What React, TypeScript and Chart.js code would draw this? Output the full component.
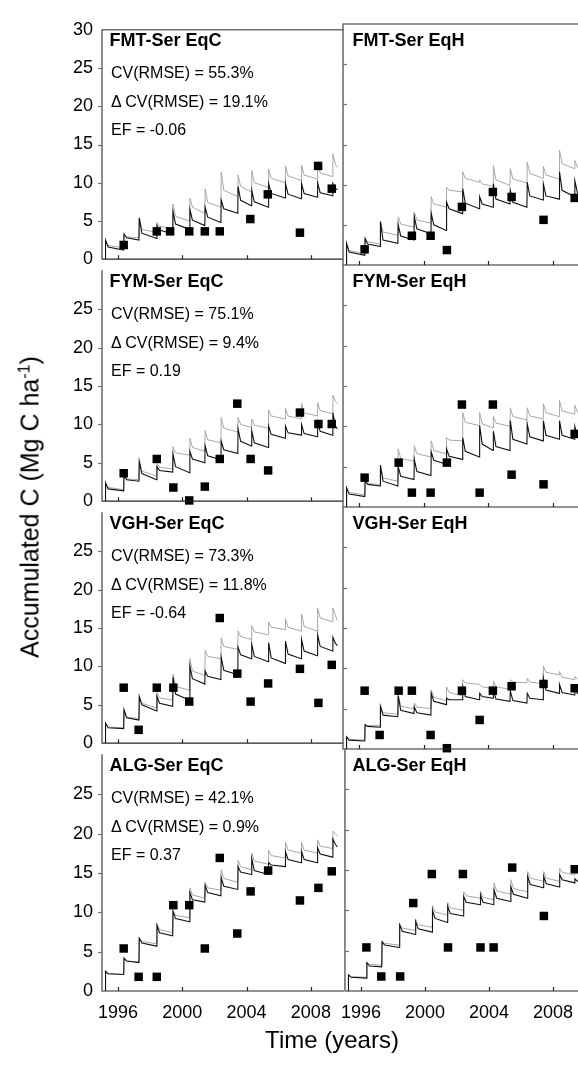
import { useEffect, useRef } from 'react';
import { Chart, registerables } from 'chart.js';

Chart.register(...registerables);

const FONT = '"Liberation Sans", Arial, Helvetica, sans-serif';

// Yearly amendment dates (decimal years) and end of the simulated period
const applicationYears = [1995.2, 1996.35, 1997.3, 1998.4, 1999.4, 2000.45, 2001.4, 2002.4, 2003.45, 2004.3, 2005.35, 2006.4, 2007.4, 2008.4, 2009.35];
const simulationEnd = 2009.65;

const yearTicks = [1996, 2000, 2004, 2008];
const carbonTicks = [0, 5, 10, 15, 20, 25, 30];

// Simulated accumulated C per application cycle: [peak, shortly after peak, just before next application]
// modelA = black curve, modelB = grey curve
const fmtEqcModelA = [[2.5, 1.6, 1.2], [3.3, 2.8, 2.5], [5.4, 3.4, 2.7], [4.4, 3.8, 3.3], [6.2, 4.6, 3.9], [6.5, 5.1, 4.4], [6.8, 5.5, 4.8], [7.7, 6.6, 6.0], [9.5, 7.7, 7.0], [9.0, 7.5, 6.8], [9.9, 8.6, 8.0], [9.9, 8.5, 7.9], [9.9, 8.6, 8.1], [10.0, 8.7, 8.3], [9.9, 9.2, 9.1]];
const fmtEqcModelB = [[2.4, 1.8, 1.5], [3.2, 2.9, 2.8], [5.4, 3.9, 3.5], [4.8, 4.3, 4.0], [7.2, 5.6, 5.0], [8.0, 6.8, 6.0], [9.2, 7.4, 6.8], [11.4, 9.0, 8.2], [11.0, 9.5, 8.8], [11.6, 10.0, 9.4], [11.8, 10.6, 10.0], [12.2, 10.9, 10.3], [12.3, 11.0, 10.5], [12.6, 11.3, 10.8], [13.8, 12.4, 12.0]];
const fmtEqhModelA = [[2.7, 1.6, 1.2], [3.3, 2.6, 2.3], [5.4, 3.1, 2.7], [5.0, 3.6, 3.1], [6.0, 4.5, 3.9], [6.4, 5.0, 4.3], [7.8, 7.0, 6.4], [9.5, 7.7, 7.0], [8.5, 7.6, 7.2], [10.1, 8.2, 7.6], [9.3, 7.8, 7.2], [10.3, 8.6, 8.1], [10.1, 8.6, 8.2], [11.6, 9.3, 8.5], [10.5, 9.0, 8.6]];
const fmtEqhModelB = [[2.6, 1.8, 1.4], [3.3, 2.9, 2.6], [5.4, 4.1, 3.7], [6.0, 5.1, 4.7], [6.6, 5.6, 5.2], [8.5, 7.6, 7.2], [9.7, 9.3, 9.1], [11.6, 10.8, 10.3], [10.6, 10.1, 9.8], [12.4, 10.6, 9.9], [12.0, 10.7, 10.2], [12.8, 11.4, 10.8], [12.3, 11.2, 10.7], [14.3, 12.6, 12.0], [13.0, 12.2, 11.9]];
const fymEqcModelA = [[2.4, 1.6, 1.35], [3.4, 2.8, 2.6], [5.2, 3.6, 2.8], [4.5, 4.0, 3.8], [6.1, 4.5, 3.7], [6.5, 5.5, 5.0], [7.2, 5.9, 5.4], [7.8, 6.7, 6.2], [9.4, 7.8, 7.2], [9.2, 7.6, 7.0], [9.8, 8.7, 8.2], [9.8, 8.9, 8.6], [10.0, 8.8, 8.4], [10.3, 9.1, 8.6], [11.5, 9.8, 9.4]];
const fymEqcModelB = [[2.3, 1.8, 1.5], [3.3, 2.9, 2.8], [5.2, 3.9, 3.3], [4.9, 4.4, 4.2], [7.1, 6.3, 6.0], [8.2, 7.0, 6.5], [9.2, 8.0, 7.6], [10.9, 9.5, 9.0], [10.9, 10.0, 9.6], [10.7, 9.9, 9.5], [11.9, 11.1, 10.7], [12.1, 11.1, 10.7], [12.7, 11.5, 11.1], [12.8, 11.8, 11.4], [13.8, 13.0, 12.7]];
const fymEqhModelA = [[2.4, 1.6, 1.3], [3.3, 2.8, 2.6], [5.2, 3.2, 2.6], [5.0, 3.8, 3.4], [5.9, 4.4, 3.9], [6.8, 5.8, 5.3], [7.2, 6.3, 5.9], [8.6, 6.9, 6.2], [10.1, 7.8, 7.0], [9.4, 7.5, 7.0], [10.7, 8.4, 7.8], [10.3, 8.7, 8.2], [10.7, 8.9, 8.4], [10.7, 8.9, 8.4], [10.0, 8.8, 8.6]];
const fymEqhModelB = [[2.3, 1.8, 1.5], [3.3, 2.9, 2.8], [5.2, 3.6, 3.2], [7.2, 6.0, 5.7], [7.6, 6.6, 6.2], [8.2, 7.0, 6.6], [8.6, 8.3, 8.2], [11.7, 10.5, 10.1], [11.7, 10.3, 9.8], [11.3, 10.4, 10.0], [12.3, 11.2, 10.8], [12.3, 11.3, 10.9], [12.8, 11.7, 11.2], [13.2, 11.9, 11.5], [12.6, 11.8, 11.5]];
const vghEqcModelA = [[2.6, 2.0, 1.9], [4.4, 3.3, 3.0], [6.1, 5.0, 4.2], [6.1, 5.2, 4.8], [8.6, 6.4, 5.6], [10.0, 8.4, 7.7], [9.4, 8.7, 8.3], [11.2, 9.5, 8.9], [12.5, 11.5, 11.0], [12.9, 11.3, 10.6], [13.1, 11.1, 10.4], [13.3, 11.6, 11.0], [13.5, 12.0, 11.4], [14.1, 12.6, 12.0], [13.8, 13.0, 12.7]];
const vghEqcModelB = [[2.5, 2.1, 2.0], [4.3, 3.4, 3.2], [6.0, 5.2, 4.6], [6.6, 5.9, 5.6], [9.0, 7.4, 6.9], [11.0, 9.4, 8.8], [12.1, 11.3, 11.0], [13.7, 12.6, 12.2], [14.6, 13.9, 13.5], [15.3, 14.5, 14.1], [15.8, 15.1, 14.8], [16.2, 15.1, 14.6], [16.8, 15.2, 14.6], [17.6, 16.3, 15.8], [17.6, 16.6, 16.0]];
const vghEqhModelA = [[1.5, 1.1, 1.0], [3.0, 2.8, 2.7], [5.3, 4.2, 4.0], [6.6, 4.8, 4.4], [5.2, 4.5, 4.2], [6.9, 5.9, 5.5], [6.3, 6.1, 6.1], [7.7, 6.5, 6.1], [6.9, 6.5, 6.3], [7.3, 6.2, 5.9], [7.2, 6.0, 5.7], [6.9, 6.3, 6.1], [8.8, 7.3, 6.9], [8.0, 7.0, 6.7], [7.4, 6.9, 6.8]];
const vghEqhModelB = [[1.5, 1.2, 1.1], [3.0, 2.9, 2.9], [5.4, 4.5, 4.3], [6.8, 5.3, 5.0], [5.7, 5.2, 5.0], [7.3, 6.4, 6.0], [7.7, 7.0, 6.6], [8.6, 8.2, 8.0], [8.0, 7.7, 7.5], [8.4, 7.7, 7.4], [8.6, 8.3, 8.2], [8.8, 8.3, 8.1], [10.3, 9.5, 9.2], [9.6, 8.9, 8.6], [9.0, 8.7, 8.5]];
const algEqcModelA = [[2.5, 2.2, 2.1], [4.2, 3.8, 3.6], [6.7, 6.1, 5.7], [8.3, 7.4, 7.0], [10.1, 9.2, 8.8], [12.5, 11.6, 11.3], [13.4, 12.5, 12.1], [14.4, 13.3, 12.9], [15.8, 15.1, 14.8], [16.8, 15.3, 14.8], [16.3, 16.0, 15.8], [17.7, 16.7, 16.3], [17.7, 16.7, 16.3], [18.2, 17.4, 17.0], [19.3, 18.6, 18.3]];
const algEqcModelB = [[2.4, 2.2, 2.1], [4.1, 3.8, 3.7], [6.8, 6.3, 6.0], [8.6, 7.8, 7.4], [10.3, 9.6, 9.3], [13.1, 12.2, 11.8], [13.8, 13.1, 12.8], [15.4, 14.3, 13.8], [16.6, 15.8, 15.4], [17.5, 16.5, 16.1], [17.9, 17.2, 16.9], [18.9, 17.9, 17.5], [18.9, 17.9, 17.5], [19.2, 18.4, 18.1], [20.3, 19.9, 19.7]];
const algEqhModelA = [[2.0, 1.7, 1.6], [3.5, 3.1, 3.0], [6.1, 5.7, 5.4], [8.2, 7.4, 7.0], [8.6, 7.7, 7.3], [10.0, 9.0, 8.5], [10.5, 9.6, 9.3], [11.7, 11.0, 10.7], [11.9, 11.0, 10.7], [12.5, 11.5, 11.1], [12.9, 12.0, 11.5], [14.2, 13.2, 12.8], [14.2, 13.3, 12.9], [14.4, 13.8, 13.4], [13.9, 13.6, 13.5]];
const algEqhModelB = [[2.0, 1.8, 1.7], [3.6, 3.3, 3.2], [6.2, 5.9, 5.7], [8.3, 7.8, 7.5], [8.9, 8.2, 7.9], [10.6, 9.8, 9.4], [11.0, 10.3, 10.0], [12.3, 11.8, 11.5], [12.4, 11.6, 11.3], [13.4, 12.4, 12.0], [13.8, 12.7, 12.3], [14.8, 14.0, 13.6], [14.8, 14.0, 13.6], [15.2, 14.7, 14.4], [14.8, 14.5, 14.4]];

// Measured accumulated C (Mg C/ha)
const fmtEqcObsYears = [1996.35, 1998.41, 1999.24, 2000.43, 2001.4, 2002.33, 2004.23, 2005.32, 2007.32, 2008.45, 2009.3];
const fmtEqcObsValues = [1.86, 3.64, 3.64, 3.64, 3.64, 3.64, 5.25, 8.48, 3.47, 12.2, 9.22];
const fmtEqhObsYears = [1996.34, 1999.27, 2000.43, 2001.44, 2002.37, 2004.29, 2005.45, 2007.43, 2009.36];
const fmtEqhObsValues = [1.95, 3.64, 3.64, 1.86, 7.23, 9.09, 8.47, 5.62, 8.35];
const fymEqcObsYears = [1996.35, 1998.41, 1999.44, 2000.43, 2001.4, 2002.33, 2003.42, 2004.25, 2005.34, 2007.32, 2008.47, 2009.3];
const fymEqcObsValues = [3.64, 5.5, 1.78, 0.1, 1.9, 5.5, 12.7, 5.5, 4.01, 11.54, 10.05, 10.05];
const fymEqhObsYears = [1996.34, 1998.45, 1999.27, 2000.43, 2001.44, 2002.37, 2003.47, 2004.29, 2005.45, 2007.43, 2009.36];
const fymEqhObsValues = [3.64, 5.5, 1.78, 1.78, 5.5, 12.7, 1.78, 12.7, 4.01, 2.81, 9.06];
const vghEqcObsYears = [1996.35, 1997.28, 1998.41, 1999.44, 2000.43, 2002.33, 2003.42, 2004.25, 2005.34, 2007.32, 2008.47, 2009.3];
const vghEqcObsValues = [7.23, 1.74, 7.23, 7.23, 5.42, 16.3, 9.06, 5.42, 7.78, 9.68, 5.25, 10.2];
const vghEqhObsYears = [1996.34, 1997.27, 1998.45, 1999.27, 2000.43, 2001.44, 2002.37, 2003.47, 2004.29, 2005.45, 2007.43, 2009.36];
const vghEqhObsValues = [7.23, 1.74, 7.23, 7.23, 1.74, 0.1, 7.23, 3.6, 7.23, 7.78, 8.06, 7.53];
const algEqcObsYears = [1996.35, 1997.28, 1998.41, 1999.44, 2000.43, 2001.4, 2002.33, 2003.42, 2004.25, 2005.34, 2007.32, 2008.47, 2009.3];
const algEqcObsValues = [5.4, 1.8, 1.8, 10.9, 10.9, 5.4, 16.9, 7.3, 12.65, 15.3, 11.5, 13.1, 15.2];
const algEqhObsYears = [1996.34, 1997.27, 1998.45, 1999.27, 2000.43, 2001.44, 2002.37, 2003.47, 2004.29, 2005.45, 2007.43, 2009.36];
const algEqhObsValues = [5.4, 1.8, 1.8, 10.9, 14.5, 5.4, 14.5, 5.4, 5.4, 15.3, 9.3, 15.1];

const panels = [
  { row: 0, col: 0, title: 'FMT-Ser EqC', stats: ['CV(RMSE) = 55.3%', 'Δ CV(RMSE) = 19.1%', 'EF = -0.06'], obsYears: fmtEqcObsYears, obsValues: fmtEqcObsValues, modelA: fmtEqcModelA, modelB: fmtEqcModelB },
  { row: 0, col: 1, title: 'FMT-Ser EqH', stats: [], obsYears: fmtEqhObsYears, obsValues: fmtEqhObsValues, modelA: fmtEqhModelA, modelB: fmtEqhModelB },
  { row: 1, col: 0, title: 'FYM-Ser EqC', stats: ['CV(RMSE) = 75.1%', 'Δ CV(RMSE) = 9.4%', 'EF = 0.19'], obsYears: fymEqcObsYears, obsValues: fymEqcObsValues, modelA: fymEqcModelA, modelB: fymEqcModelB },
  { row: 1, col: 1, title: 'FYM-Ser EqH', stats: [], obsYears: fymEqhObsYears, obsValues: fymEqhObsValues, modelA: fymEqhModelA, modelB: fymEqhModelB },
  { row: 2, col: 0, title: 'VGH-Ser EqC', stats: ['CV(RMSE) = 73.3%', 'Δ CV(RMSE) = 11.8%', 'EF = -0.64'], obsYears: vghEqcObsYears, obsValues: vghEqcObsValues, modelA: vghEqcModelA, modelB: vghEqcModelB },
  { row: 2, col: 1, title: 'VGH-Ser EqH', stats: [], obsYears: vghEqhObsYears, obsValues: vghEqhObsValues, modelA: vghEqhModelA, modelB: vghEqhModelB },
  { row: 3, col: 0, title: 'ALG-Ser EqC', stats: ['CV(RMSE) = 42.1%', 'Δ CV(RMSE) = 0.9%', 'EF = 0.37'], obsYears: algEqcObsYears, obsValues: algEqcObsValues, modelA: algEqcModelA, modelB: algEqcModelB },
  { row: 3, col: 1, title: 'ALG-Ser EqH', stats: [], obsYears: algEqhObsYears, obsValues: algEqhObsValues, modelA: algEqhModelA, modelB: algEqhModelB },
];

// Grid geometry (page pixels)
const colLeft = [102, 343];
const colRight = [343, 585];
const rowTop = [24, 265, 507, 749];
const rowBottom = [265, 507, 749, 991];
const PAD = 14;
const Y_LABEL_W = 60;
const X_LABEL_H = 45;

function sawtooth(cycles: number[][]) {
  const pts: { x: number; y: number }[] = [{ x: applicationYears[0], y: 0 }];
  cycles.forEach(([peak, after, low], i) => {
    const t = applicationYears[i];
    const next = i + 1 < applicationYears.length ? applicationYears[i + 1] : simulationEnd;
    pts.push({ x: t + 0.02, y: peak }, { x: t + 0.18, y: after }, { x: next, y: low });
  });
  return pts;
}

const framePlugin = {
  id: 'frame',
  afterDatasetsDraw(chart: any, _args: any, opts: any) {
    const { ctx, chartArea: a, scales } = chart;
    const line = (x1: number, y1: number, x2: number, y2: number) => {
      ctx.beginPath();
      ctx.moveTo(x1, y1);
      ctx.lineTo(x2, y2);
      ctx.stroke();
    };
    ctx.save();
    // bottom axis with inward year ticks
    ctx.strokeStyle = '#262626';
    ctx.lineWidth = 1.2;
    line(a.left, a.bottom, a.right + 1, a.bottom);
    yearTicks.forEach((v) => {
      const x = Math.round(scales.x.getPixelForValue(v)) + 0.5;
      line(x, a.bottom, x, a.bottom - 4);
    });
    // left axis
    ctx.strokeStyle = '#6f6f6f';
    ctx.lineWidth = 1.6;
    line(a.left, a.top - 0.5, a.left, a.bottom + 0.5);
    ctx.lineWidth = 1.2;
    carbonTicks.slice(1, -1).forEach((v) => {
      const y = Math.round(scales.y.getPixelForValue(v)) + 0.5;
      if (opts.col === 0) line(a.left - 4, y, a.left, y);
      else line(a.left, y, a.left + 4, y);
    });
    if (opts.row === 0) {
      ctx.strokeStyle = '#6f6f6f';
      ctx.lineWidth = 1.4;
      line(a.left, a.top, a.right + 1, a.top);
    }
    ctx.restore();
  },
};

function Panel({ spec }: { spec: any }) {
  const ref = useRef<HTMLCanvasElement>(null);
  const yW = spec.col === 0 ? Y_LABEL_W : PAD;
  const xH = spec.row === 3 ? X_LABEL_H : PAD;
  const plotW = colRight[spec.col] - colLeft[spec.col];
  const plotH = rowBottom[spec.row] - rowTop[spec.row];
  const left = colLeft[spec.col] - yW;
  const top = rowTop[spec.row] - PAD;
  const width = yW + plotW + PAD;
  const height = PAD + plotH + xH;

  useEffect(() => {
    const yTicks = spec.row === 0 ? carbonTicks : carbonTicks.slice(0, -1);
    const chart = new Chart(ref.current as HTMLCanvasElement, {
      type: 'scatter',
      data: {
        datasets: [
          {
            data: spec.obsYears.map((x: number, i: number) => ({ x, y: spec.obsValues[i] })),
            pointStyle: 'rect',
            pointRadius: 6,
            pointBackgroundColor: '#000',
            pointBorderWidth: 0,
            showLine: false,
            clip: false,
          },
          {
            data: sawtooth(spec.modelA),
            showLine: true,
            borderColor: '#111',
            borderWidth: 1.1,
            pointRadius: 0,
            tension: 0,
          },
          {
            data: sawtooth(spec.modelB),
            showLine: true,
            borderColor: '#a8a8a8',
            borderWidth: 1,
            pointRadius: 0,
            tension: 0,
          },
        ],
      } as any,
      options: {
        animation: false,
        responsive: false,
        maintainAspectRatio: false,
        events: [],
        layout: { padding: { top: PAD, right: PAD, left: 0, bottom: 0 } },
        plugins: {
          legend: { display: false },
          tooltip: { enabled: false },
          frame: { row: spec.row, col: spec.col },
        } as any,
        scales: {
          x: {
            type: 'linear',
            min: 1995,
            max: 2010,
            afterBuildTicks: (s: any) => {
              s.ticks = yearTicks.map((value) => ({ value }));
            },
            afterFit: (s: any) => {
              s.height = xH;
            },
            grid: { display: false, drawTicks: false },
            border: { display: false },
            ticks: {
              display: spec.row === 3,
              padding: 11,
              color: '#000',
              font: { family: FONT, size: 18 },
              maxRotation: 0,
              autoSkip: false,
              callback: (v: any) => String(v),
            },
          },
          y: {
            type: 'linear',
            min: 0,
            max: 30,
            afterBuildTicks: (s: any) => {
              s.ticks = yTicks.map((value) => ({ value }));
            },
            afterFit: (s: any) => {
              s.width = yW;
            },
            grid: { display: false, drawTicks: false },
            border: { display: false },
            ticks: {
              display: spec.col === 0,
              padding: 9,
              color: '#000',
              font: { family: FONT, size: 18 },
              autoSkip: false,
              callback: (v: any) => String(v),
            },
          },
        },
      } as any,
      plugins: [framePlugin as any],
    });
    return () => chart.destroy();
  }, []);

  return (
    <canvas
      ref={ref}
      width={width}
      height={height}
      style={{ position: 'absolute', left, top, width, height }}
    />
  );
}

function PanelText({ spec }: { spec: any }) {
  const x0 = colLeft[spec.col];
  const y0 = rowTop[spec.row];
  const titleSize = 18;
  const statSize = 16;
  const statOffsets = [55, 83.8, 112];
  return (
    <>
      <div
        style={{
          position: 'absolute',
          left: x0 + (spec.col === 0 ? 7.5 : 9.5),
          top: y0 + 22.5 - 0.8465 * titleSize,
          fontSize: titleSize,
          lineHeight: 1,
          fontWeight: 'bold',
          whiteSpace: 'nowrap',
          color: '#000',
        }}
      >
        {spec.title}
      </div>
      {spec.stats.map((s: string, i: number) => (
        <div
          key={i}
          style={{
            position: 'absolute',
            left: x0 + 9,
            top: y0 + statOffsets[i] - 0.8465 * statSize,
            fontSize: statSize,
            lineHeight: 1,
            whiteSpace: 'nowrap',
            color: '#000',
          }}
        >
          {s}
        </div>
      ))}
    </>
  );
}

export default function App() {
  return (
    <div
      style={{
        position: 'absolute',
        left: 0,
        top: 0,
        width: 578,
        height: 1077,
        overflow: 'hidden',
        background: '#fff',
        fontFamily: FONT,
      }}
    >
      {panels.map((p, i) => (
        <Panel key={i} spec={p} />
      ))}
      {panels.map((p, i) => (
        <PanelText key={'t' + i} spec={p} />
      ))}
      <div
        style={{
          position: 'absolute',
          left: 30,
          top: 507,
          transform: 'translate(-50%, -50%) rotate(-90deg)',
          fontSize: 25,
          lineHeight: 1,
          whiteSpace: 'nowrap',
          color: '#000',
        }}
      >
        Accumulated C (Mg C ha<sup style={{ fontSize: 16, verticalAlign: 'super', lineHeight: 0 }}>-1</sup>)
      </div>
      <div
        style={{
          position: 'absolute',
          left: 332,
          top: 1048 - 0.8465 * 24,
          transform: 'translateX(-50%)',
          fontSize: 24,
          lineHeight: 1,
          whiteSpace: 'nowrap',
          color: '#000',
        }}
      >
        Time (years)
      </div>
    </div>
  );
}
